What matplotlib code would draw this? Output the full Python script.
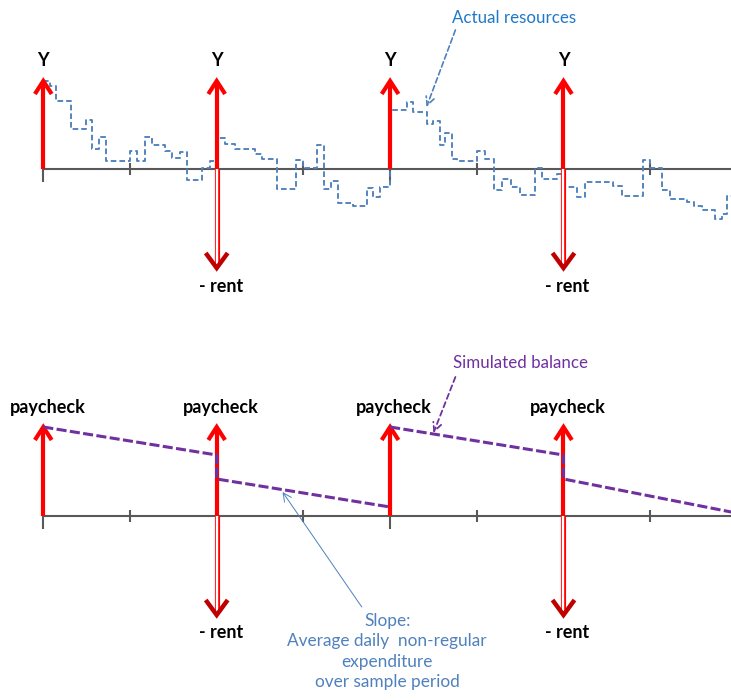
import matplotlib
matplotlib.use("Agg")
import matplotlib.pyplot as plt

plt.rcParams['font.family'] = ['Lato', 'DejaVu Sans']

# ---------------- data ----------------
tick_days = [0, 15, 30, 45, 60, 75, 90, 105]
paycheck_days = [0, 30, 60, 90]
rent_days = [30, 90]
income_height = [88, 88, 88, 88]
paycheck_height = [89, 89, 89, 89]
rent_height = [-99, -99]

step_days = [0, 1.2, 2.2, 4.8, 7.4, 8.5, 9.7, 10.8, 15.0, 16.2, 17.6, 18.8, 21.1, 22.2, 23.7, 24.9,
             27.5, 28.8, 30.0, 31.4, 33.2, 36.6, 37.8, 40.4, 43.8, 45.0, 47.3, 48.6, 49.8, 51.0, 53.6, 56.0,
             57.1, 58.3, 60.0, 62.9, 64.0, 66.3, 67.5, 68.6, 69.5, 70.7, 71.5, 75.0, 76.4, 77.9, 79.3, 81.0,
             82.5, 85.1, 86.2, 88.8, 90.0, 92.3, 93.7, 98.6, 100.1, 103.8, 105.0, 107.0, 108.4, 111.3, 112.5, 113.9,
             116.2, 117.4, 118.3, 119.0]
step_values = [88, 83, 68, 40, 49, 20, 32, 8, 18, 8, 32, 24, 18, 11, 17, -11,
               1, 8, 31, 25, 20, 15, 10, -20, 9, 1, 24, -20, -12, -34, -37, -19,
               -28, -18, 59, 67, 57, 45, 48, 24, 36, 10, 8, 18, 10, -21, -10, -18,
               -26, 1, -10, -5, -18, -28, -13, -17, -27, 9, 1, -21, -30, -33, -37, -41,
               -50, -45, -27, -27]

# simulated balance, one piece per 60-day cycle
sim_days_1 = [0, 30, 30, 60]
sim_values_1 = [89, 61, 37, 9]
sim_days_2 = [60, 90, 90, 119.0]
sim_values_2 = [89, 61, 37, 4]

top_income_label = "Y"
bottom_income_label = "paycheck"
rent_label = "- rent"

# ---------------- styles ----------------
W, H = 731, 700
XLIM = (-7.49, 118.98)
RED = '#FF0000'
DARKRED = '#C00000'
GRAY = '#595959'
BLUE = '#4F81BD'
PURPLE = '#7030A0'
HEAD_W = 1.45   # half width in days
HEAD_H = 13

fig = plt.figure(figsize=(W / 100, H / 100), dpi=100)
# top panel: px 0..330, baseline at px 169
ax1 = fig.add_axes([0, 1 - 330 / H, 1, 330 / H])
ax1.set_xlim(*XLIM)
ax1.set_ylim(169 - 330, 169)
# bottom panel: px 330..700, baseline at px 516
ax2 = fig.add_axes([0, 0, 1, 370 / H])
ax2.set_xlim(*XLIM)
ax2.set_ylim(516 - 700, 516 - 330)
for ax in (ax1, ax2):
    ax.axis('off')


def baseline(ax):
    ax.plot([0, XLIM[1]], [0, 0], color=GRAY, lw=1.5, zorder=2, solid_capstyle='butt')
    for d in tick_days:
        if d % 30 == 0:
            ax.plot([d, d], [0, -13], color=GRAY, lw=1.5, zorder=2, solid_capstyle='butt')
        else:
            ax.plot([d, d], [-6, 6], color=GRAY, lw=1.5, zorder=2, solid_capstyle='butt')


def up_arrow(ax, x, h):
    ax.plot([x, x], [0, h - 2], color=RED, lw=3, zorder=4, solid_capstyle='butt')
    ax.plot([x - HEAD_W, x, x + HEAD_W], [h - HEAD_H, h, h - HEAD_H], color=RED, lw=3,
            zorder=4, solid_joinstyle='miter', solid_capstyle='butt')


def down_arrow(ax, x, h):
    ax.plot([x, x], [0, h + 3], color=RED, lw=3.7, zorder=3, solid_capstyle='butt')
    ax.plot([x, x], [0, h + 3], color='white', lw=1.7, zorder=3.1, solid_capstyle='butt')
    ax.plot([x - 1.9, x, x + 1.9], [h + 15, h, h + 15], color=DARKRED, lw=3.2,
            zorder=3.2, solid_joinstyle='miter', solid_capstyle='butt')


# ---------- top panel ----------
baseline(ax1)
ax1.step(step_days, step_values, where='post', color=BLUE, lw=1.35, dashes=(3.0, 1.6), zorder=3)
for d, h in zip(paycheck_days, income_height):
    up_arrow(ax1, d, h)
    ax1.text(d, 108, top_income_label, ha='center', va='center', fontsize=13, fontweight='bold')
for d, h in zip(rent_days, rent_height):
    down_arrow(ax1, d, h)
    ax1.text(d + 0.7, -117, rent_label, ha='center', va='center', fontsize=13, fontweight='bold')

ax1.text(81.4, 151, "Actual resources", ha='center', va='center', fontsize=12.2, color='#1F78C8')
ax1.annotate("", xy=(66.3, 62), xytext=(71.3, 139),
             arrowprops=dict(arrowstyle='->,head_length=0.6,head_width=0.3', color=BLUE, lw=1.2,
                             linestyle=(0, (3.3, 1.8)), shrinkA=0, shrinkB=0), zorder=5)

# ---------- bottom panel ----------
baseline(ax2)
for d, h in zip(paycheck_days, paycheck_height):
    up_arrow(ax2, d, h)
    ax2.text(d + 0.7, 109, bottom_income_label, ha='center', va='center', fontsize=13, fontweight='bold')
for d, h in zip(rent_days, rent_height):
    down_arrow(ax2, d, h)
    ax2.text(d + 0.7, -117, rent_label, ha='center', va='center', fontsize=13, fontweight='bold')
for sd, sv in ((sim_days_1, sim_values_1), (sim_days_2, sim_values_2)):
    ax2.plot(sd, sv, color=PURPLE, lw=2.2, dashes=(3.3, 1.1), zorder=5)

ax2.text(82.6, 153, "Simulated balance", ha='center', va='center', fontsize=12.2, color=PURPLE)
ax2.annotate("", xy=(67.5, 83), xytext=(71.3, 139),
             arrowprops=dict(arrowstyle='->,head_length=0.6,head_width=0.3', color=PURPLE, lw=1.3,
                             linestyle=(0, (3, 2)), shrinkA=0, shrinkB=0), zorder=5)

ax2.text(59.5, -135.5, "Slope:\nAverage daily  non-regular\nexpenditure\nover sample period",
         ha='center', va='center', fontsize=12.4, color=BLUE, linespacing=1.33)
ax2.annotate("", xy=(41.4, 24), xytext=(55.1, -91),
             arrowprops=dict(arrowstyle='->,head_length=0.6,head_width=0.3', color=BLUE, lw=0.7,
                             shrinkA=0, shrinkB=0), zorder=5)

fig.savefig("out.png", dpi=100)
